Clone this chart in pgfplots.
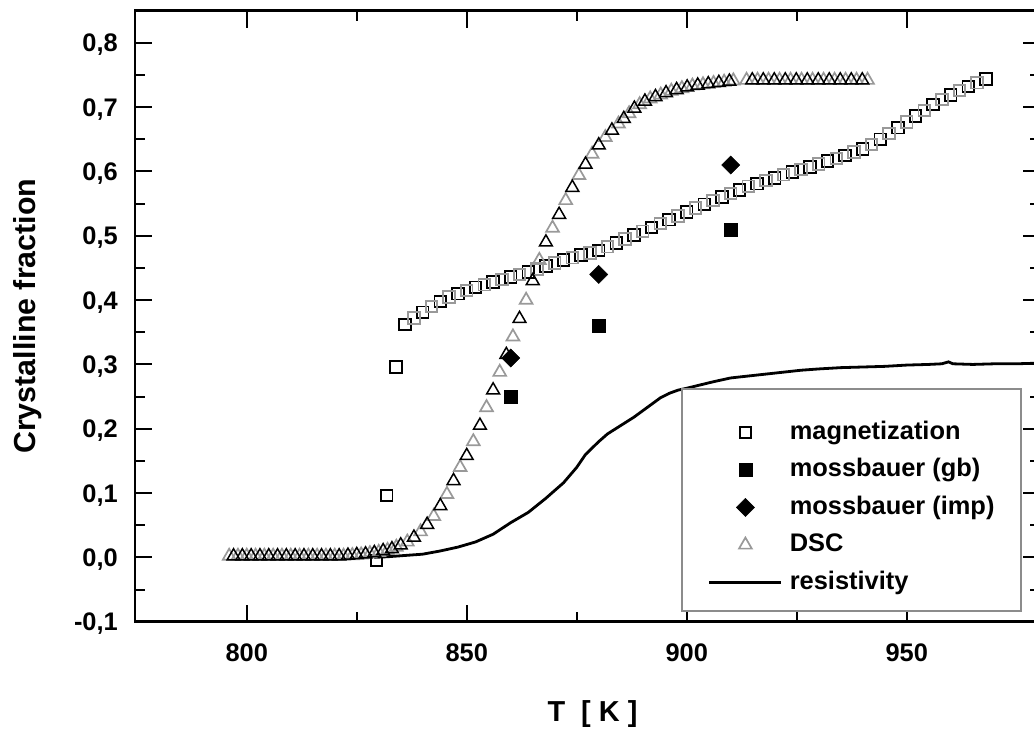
\documentclass[border=0pt]{standalone}
\usepackage{fontspec}
\setmainfont{Liberation Sans}
\usepackage{pgfplots}
\usepackage{pgfplotstable}
\pgfplotsset{compat=1.18}

\pgfplotstableread{
x y
829.5 -0.005
831.8 0.096
833.9 0.296
836 0.362
840 0.381
844 0.398
848 0.410
852 0.420
856 0.428
860 0.436
864 0.444
868 0.453
872 0.462
876 0.470
880 0.477
884 0.489
888 0.501
892 0.513
896 0.525
900 0.537
904 0.549
908 0.560
912 0.571
916 0.581
920 0.590
924 0.599
928 0.607
932 0.616
936 0.625
940 0.635
944 0.650
948 0.668
952 0.686
956 0.704
960 0.719
964 0.732
968 0.744
}\magA

\pgfplotstableread{
x y
838 0.372
842 0.390
846 0.405
850 0.415
854 0.424
858 0.432
862 0.440
866 0.448
870 0.458
874 0.466
878 0.473
882 0.483
886 0.495
890 0.507
894 0.519
898 0.531
902 0.543
906 0.555
910 0.566
914 0.577
918 0.586
922 0.595
926 0.603
930 0.612
934 0.620
938 0.630
942 0.642
946 0.659
950 0.677
954 0.695
958 0.712
962 0.726
966 0.738
}\magB

\pgfplotstableread{
x y
796 0.002
798 0.002
800 0.002
802 0.002
804 0.002
806 0.002
808 0.002
810 0.002
812 0.002
814 0.002
816 0.002
818 0.002
820 0.002
822 0.002
824 0.003
826 0.004
828 0.006
830 0.008
832 0.011
834 0.016
836.5 0.024
839.5 0.040
842.5 0.064
845.5 0.098
848.5 0.140
851.5 0.180
854.5 0.233
857.5 0.288
860.5 0.343
863.5 0.400
866.5 0.462
869.5 0.512
872.5 0.555
875.5 0.594
878.5 0.627
881.5 0.653
884.5 0.674
886.9 0.690
889.3 0.704
891.7 0.713
894.1 0.719
896.5 0.725
898.9 0.729
901.3 0.733
903.7 0.735
906.1 0.737
908.5 0.739
910.6 0.741
913.6 0.742
916.1 0.742
918.6 0.742
921.1 0.742
923.6 0.742
926.1 0.742
928.6 0.742
931.1 0.742
933.6 0.742
936.1 0.742
938.6 0.742
941.1 0.742
}\dscA

\pgfplotstableread{
x y
797 0.002
799 0.002
801 0.002
803 0.002
805 0.002
807 0.002
809 0.002
811 0.002
813 0.002
815 0.002
817 0.002
819 0.002
821 0.002
823 0.003
825 0.004
827 0.005
829 0.007
831 0.010
833 0.013
835 0.019
838 0.031
841 0.051
844 0.080
847 0.119
850 0.158
853 0.205
856 0.260
859 0.315
862 0.371
865 0.430
868 0.490
871 0.533
874 0.575
877 0.611
880 0.641
883 0.664
885.7 0.682
888.1 0.698
890.5 0.709
892.9 0.716
895.3 0.722
897.7 0.727
900.1 0.731
902.5 0.734
904.9 0.736
907.3 0.738
909.7 0.740
914.9 0.742
917.4 0.742
919.9 0.742
922.4 0.742
924.9 0.742
927.4 0.742
929.9 0.742
932.4 0.742
934.9 0.742
937.4 0.742
939.9 0.742
}\dscB

\pgfplotstableread{
x y
829 0.000
832 0.001
836 0.003
840 0.005
844 0.010
848 0.016
852 0.024
856 0.036
860 0.054
864 0.070
868 0.092
872 0.116
875 0.140
877 0.160
880 0.180
882 0.192
885 0.205
888 0.218
890 0.228
892 0.238
894 0.248
896 0.255
898 0.260
900 0.263
903 0.268
906 0.273
910 0.279
914 0.282
918 0.285
922 0.288
926 0.291
930 0.293
935 0.295
940 0.296
945 0.297
950 0.299
955 0.300
958 0.301
959.5 0.304
960.5 0.301
965 0.300
970 0.301
975 0.301
980 0.302
}\res

\begin{document}
\begin{tikzpicture}
\begin{axis}[
  at={(135bp,109.3bp)}, anchor=south west,
  scale only axis, width=905bp, height=611bp,
  xmin=774.6, xmax=980.3, ymin=-0.1, ymax=0.85,
  xtick={800,850,900,950},
  ytick={-0.1,0,0.1,0.2,0.3,0.4,0.5,0.6,0.7,0.8},
  minor tick num=1,
  tick align=inside,
  major tick length=17bp, minor tick length=10bp,
  tick style={line width=2bp, black},
  axis line style={line width=2.4bp},
  /pgf/number format/assume math mode=true,
  tick label style={font=\fontsize{25.5}{30}\selectfont\bfseries, inner sep=0pt},
  xticklabel style={anchor=north, yshift=-22bp, /pgf/number format/.cd, fixed, 1000 sep={}},
  yticklabel style={anchor=base east, xshift=-17bp, yshift=-9.1bp, /pgf/number format/.cd, fixed, fixed zerofill, precision=1, use comma},
  xlabel={T\ \ [\ K\ ]},
  xlabel style={at={(axis description cs:0.5055,-0.1637)}, anchor=base, font=\fontsize{29}{34}\selectfont\bfseries},
  ylabel={Crystalline fraction},
  ylabel style={at={(axis description cs:-0.1094,0.5)}, anchor=base, font=\fontsize{30.5}{36}\selectfont\bfseries},
  legend cell align=left,
  legend style={at={(0.9801,0.0158)}, anchor=south east, draw=black!45, line width=2bp, fill=white,
    inner xsep=26.5bp, inner ysep=17.25bp, row sep=0bp, column sep=7bp,
    font=\fontsize{25.5}{30}\selectfont\bfseries,
    nodes={inner sep=0pt, anchor=base west, text height=32.75bp, text depth=4.75bp}},
  legend image code/.code={\draw[mark repeat=2,mark phase=2,#1] plot coordinates {(0bp,6.6bp) (36bp,6.6bp) (72bp,6.6bp)};},
]
\addplot[only marks, mark=square, mark size=5.8bp, mark options={draw=black, line width=1.9bp, fill=none}] table {\magA};
\addlegendentry{magnetization}
\addplot[only marks, mark=square, mark size=5.8bp, mark options={draw=black!40, line width=1.9bp, fill=none}, forget plot] table {\magB};
\addplot[only marks, mark=square*, mark size=6.5bp, mark options={draw=black, fill=black, line width=0.5bp}] coordinates {(860,0.25) (880,0.36) (910,0.51)};
\addlegendentry{mossbauer (gb)}
\addplot[only marks, mark=square*, mark size=6.4bp, mark options={rotate=45, draw=black, fill=black, line width=0.5bp}] coordinates {(860,0.31) (880,0.44) (910,0.61)};
\addlegendentry{mossbauer (imp)}
\addplot[only marks, mark=triangle, mark size=7.4bp, mark options={draw=black!40, line width=1.7bp, fill=none}] table {\dscA};
\addlegendentry{DSC}
\addplot[only marks, mark=triangle, mark size=7.4bp, mark options={draw=black, line width=1.5bp, fill=none}, forget plot] table {\dscB};
\addplot[black, line width=2.8bp, no marks] table {\res};
\addlegendentry{resistivity}
\end{axis}
\pgfresetboundingbox
\path[use as bounding box] (0,0) rectangle (1034bp,731bp);
\end{tikzpicture}
\end{document}
